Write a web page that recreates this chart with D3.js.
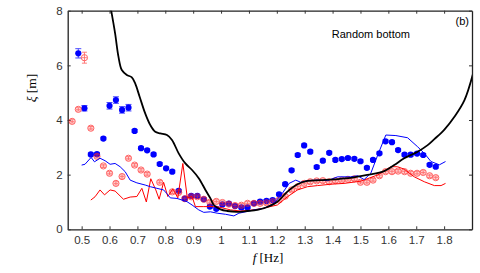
<!DOCTYPE html>
<html>
<head>
<meta charset="utf-8">
<script src="https://cdn.jsdelivr.net/npm/d3@7"></script>
<style>
  html, body { margin: 0; padding: 0; background: #fff; }
  svg { display: block; }
  .tick text { font-family: "Liberation Sans", Arial, sans-serif; font-size: 11.5px; fill: #333; }
</style>
</head>
<body>
<div id="chart"></div>
<script>
// measured points, blue filled dots
const blueF = [0.488, 0.51, 0.533, 0.555, 0.578, 0.6, 0.623, 0.645, 0.668, 0.69, 0.713, 0.735, 0.758, 0.78,
  0.803, 0.825, 0.848, 0.87, 0.893, 0.915, 0.938, 0.96, 0.983, 1.005, 1.028, 1.05, 1.073, 1.095, 1.118,
  1.14, 1.163, 1.185, 1.208, 1.23, 1.253, 1.275, 1.298, 1.32, 1.343, 1.365, 1.388, 1.41, 1.433, 1.455,
  1.478, 1.5, 1.523, 1.545, 1.568, 1.59, 1.613, 1.635, 1.658, 1.68, 1.703, 1.725, 1.748, 1.77];
const blueXi = [6.44, 4.43, 2.74, 2.75, 3.32, 4.52, 4.73, 4.37, 4.45, 3.6, 2.97, 2.89, 2.74, 2.39,
  2.23, 2.11, 1.41, 1.12, 1.22, 1.22, 1.1, 0.83, 0.75, 0.91, 0.94, 0.85, 0.8, 0.8, 0.95,
  1.01, 1.04, 1.07, 1.28, 1.65, 2.16, 2.72, 3.07, 2.84, 2.28, 2.51, 2.8, 2.54, 2.57, 2.61,
  2.58, 2.49, 2.25, 2.54, 2.78, 3.22, 3.19, 2.9, 2.73, 2.73, 2.77, 2.72, 2.36, 2.29];
const blueErr = [0.17, 0.1, 0.05, 0.05, 0.05, 0.12, 0.12, 0.12, 0.12, 0.05, 0.05, 0.05, 0.05, 0.05,
  0.05, 0.05, 0.05, 0.05, 0.05, 0.05, 0.05, 0.05, 0.05, 0.05, 0.05, 0.05, 0.05, 0.05, 0.05,
  0.05, 0.05, 0.05, 0.05, 0.05, 0.05, 0.05, 0.05, 0.05, 0.05, 0.05, 0.05, 0.05, 0.05, 0.05,
  0.05, 0.05, 0.05, 0.05, 0.05, 0.05, 0.05, 0.05, 0.05, 0.05, 0.05, 0.05, 0.05, 0.05];

// measured points, red open circles
const redF = [0.466, 0.488, 0.51, 0.533, 0.555, 0.578, 0.6, 0.623, 0.645, 0.668, 0.69, 0.713, 0.735,
  0.78, 0.825, 0.848, 0.87, 0.893, 0.915, 0.938, 0.96, 0.983, 1.005, 1.028, 1.05, 1.073, 1.095, 1.118,
  1.14, 1.163, 1.185, 1.208, 1.23, 1.253, 1.275, 1.298, 1.32, 1.343, 1.365, 1.388, 1.41, 1.433, 1.455,
  1.478, 1.5, 1.523, 1.545, 1.568, 1.59, 1.613, 1.635, 1.658, 1.68, 1.703, 1.725, 1.748, 1.77];
const redXi = [3.95, 4.39, 6.28, 3.7, 2.67, 2.32, 2.05, 1.68, 1.93, 2.6, 2.35, 2.17, 2.02,
  1.72, 1.37, 1.35, 1.12, 1.19, 1.19, 1.1, 0.99, 1.02, 0.98, 0.92, 0.87, 0.88, 0.95, 0.95,
  0.95, 0.97, 1.01, 1.07, 1.21, 1.44, 1.56, 1.68, 1.74, 1.77, 1.78, 1.74, 1.78, 1.8, 1.83,
  1.85, 1.72, 1.72, 1.8, 1.96, 2.11, 2.11, 2.13, 2.11, 2.05, 2.05, 2.08, 1.96, 1.89];
const redErr = [0.06, 0.06, 0.2, 0.06, 0.06, 0.06, 0.06, 0.06, 0.06, 0.06, 0.06, 0.06, 0.06,
  0.06, 0.06, 0.06, 0.06, 0.06, 0.06, 0.06, 0.06, 0.06, 0.06, 0.06, 0.06, 0.06, 0.06, 0.06,
  0.06, 0.06, 0.06, 0.06, 0.06, 0.06, 0.06, 0.06, 0.06, 0.06, 0.06, 0.06, 0.06, 0.06, 0.06,
  0.06, 0.06, 0.06, 0.06, 0.06, 0.06, 0.06, 0.06, 0.06, 0.06, 0.06, 0.06, 0.06, 0.06];

// black curve
const blackF = [0.595, 0.606, 0.62, 0.632, 0.644, 0.662, 0.68, 0.692, 0.708, 0.728, 0.746, 0.764, 0.782,
  0.806, 0.824, 0.848, 0.872, 0.896, 0.92, 0.944, 0.962, 0.974, 0.998, 1.022, 1.058, 1.094, 1.13,
  1.154, 1.202, 1.238, 1.274, 1.31, 1.358, 1.405, 1.465, 1.525, 1.585, 1.621, 1.657, 1.705, 1.741,
  1.765, 1.801, 1.837, 1.873, 1.904];
const blackXi = [8.6, 8.0, 7.17, 6.32, 5.83, 5.65, 5.56, 5.34, 4.85, 4.24, 3.82, 3.57, 3.51,
  3.45, 3.27, 2.78, 2.41, 2.17, 1.87, 1.44, 1.13, 0.89, 0.73, 0.67, 0.64, 0.67, 0.71,
  0.77, 1.01, 1.38, 1.65, 1.77, 1.8, 1.83, 1.88, 1.99, 2.13, 2.35, 2.6, 2.84, 3.08,
  3.3, 3.65, 4.12, 4.73, 5.71];

// blue curve
const blueLineF = [0.5, 0.512, 0.534, 0.546, 0.566, 0.584, 0.602, 0.62, 0.638, 0.656, 0.674, 0.698, 0.728,
  0.746, 0.77, 0.794, 0.806, 0.818, 0.842, 0.86, 0.878, 0.896, 0.92, 0.938, 0.962, 0.986, 1.016,
  1.046, 1.064, 1.088, 1.118, 1.154, 1.19, 1.22, 1.244, 1.268, 1.286, 1.31, 1.346, 1.382, 1.418,
  1.465, 1.49, 1.513, 1.537, 1.562, 1.591, 1.627, 1.669, 1.705, 1.729, 1.753, 1.783, 1.805];
const blueLineXi = [2.35, 2.38, 2.63, 2.47, 2.6, 2.51, 2.38, 2.41, 2.29, 2.11, 1.8, 1.7, 1.62,
  1.56, 1.5, 1.44, 1.3, 1.15, 1.13, 1.07, 1.01, 0.89, 0.71, 0.62, 0.64, 0.59, 0.55,
  0.49, 0.59, 0.64, 0.71, 0.77, 0.95, 1.32, 1.68, 1.8, 1.72, 1.78, 1.8, 1.78, 1.92,
  1.92, 1.96, 1.82, 2.05, 2.72, 3.45, 3.43, 3.35, 3.02, 2.78, 2.48, 2.36, 2.48];

// red curve
const redLineF = [0.533, 0.548, 0.566, 0.582, 0.602, 0.62, 0.65, 0.674, 0.698, 0.716, 0.732, 0.748, 0.766,
  0.778, 0.794, 0.809, 0.827, 0.845, 0.863, 0.879, 0.896, 0.908, 0.938, 0.986, 1.034, 1.07, 1.106,
  1.142, 1.202, 1.238, 1.274, 1.31, 1.346, 1.394, 1.441, 1.501, 1.562, 1.609, 1.633, 1.657, 1.693,
  1.729, 1.765, 1.789, 1.805];
const redLineXi = [1.07, 1.19, 1.44, 1.26, 1.44, 1.4, 1.1, 1.18, 1.2, 1.5, 1.0, 1.85, 1.44,
  1.1, 1.72, 1.2, 1.48, 1.15, 2.41, 1.15, 1.2, 0.83, 0.83, 0.83, 0.71, 0.67, 0.7,
  0.75, 0.89, 1.19, 1.44, 1.56, 1.6, 1.65, 1.68, 1.76, 1.99, 2.29, 2.29, 2.2, 1.92,
  1.74, 1.6, 1.6, 1.68];

const xTicks = [0.5, 0.6, 0.7, 0.8, 0.9, 1.0, 1.1, 1.2, 1.3, 1.4, 1.5, 1.6, 1.7, 1.8];
const yTicks = [0, 2, 4, 6, 8];

const W = 480, H = 273;
const margin = { top: 10.7, right: 8, bottom: 43.7, left: 67.7 };
const iw = W - margin.left - margin.right;
const ih = H - margin.top - margin.bottom;

const svg = d3.select("#chart").append("svg")
    .attr("width", W)
    .attr("height", H);

const g = svg.append("g")
    .attr("transform", `translate(${margin.left},${margin.top})`);

const x = d3.scaleLinear().domain([0.45, 1.9]).range([0, iw]);
const y = d3.scaleLinear().domain([0, 8]).range([ih, 0]);

g.append("clipPath").attr("id", "clip")
  .append("rect").attr("width", iw).attr("height", ih);

// axes, ticks inward on all four sides
const fmt = d => String(+d.toFixed(1));
g.append("g").attr("transform", `translate(0,${ih})`)
    .call(d3.axisBottom(x).tickValues(xTicks).tickFormat(fmt).tickSizeInner(-3).tickSizeOuter(0).tickPadding(7));
g.append("g")
    .call(d3.axisTop(x).tickValues(xTicks).tickFormat("").tickSizeInner(-3).tickSizeOuter(0));
g.append("g")
    .call(d3.axisLeft(y).tickValues(yTicks).tickFormat(d3.format("d")).tickSizeInner(-3).tickSizeOuter(0).tickPadding(5));
g.append("g").attr("transform", `translate(${iw},0)`)
    .call(d3.axisRight(y).tickValues(yTicks).tickFormat("").tickSizeInner(-3).tickSizeOuter(0));
g.selectAll(".domain").attr("stroke", "#222").attr("stroke-width", 1.3);
g.selectAll(".tick line").attr("stroke", "#333");

const plot = g.append("g").attr("clip-path", "url(#clip)");

const line = d3.line().x(d => x(d[0])).y(d => y(d[1]));

// blue dots with error bars
const blue = blueF.map((f, i) => ({ f: f, v: blueXi[i], e: blueErr[i] }));
const red = redF.map((f, i) => ({ f: f, v: redXi[i], e: redErr[i] }));

const bg = plot.append("g");
bg.selectAll("line.err").data(blue).enter().append("line")
    .attr("x1", d => x(d.f)).attr("x2", d => x(d.f))
    .attr("y1", d => y(d.v - d.e)).attr("y2", d => y(d.v + d.e))
    .attr("stroke", "#4a4aff").attr("stroke-width", 1);
bg.selectAll("path.cap").data(blue).enter().append("path")
    .attr("d", d => `M${x(d.f) - 3},${y(d.v - d.e)}h6M${x(d.f) - 3},${y(d.v + d.e)}h6`)
    .attr("stroke", "#4a4aff").attr("stroke-width", 1);
bg.selectAll("circle").data(blue).enter().append("circle")
    .attr("cx", d => x(d.f)).attr("cy", d => y(d.v))
    .attr("r", 3.1)
    .attr("fill", "#0000ff");

// red open circles with error bars
const rg = plot.append("g").attr("opacity", 0.7);
rg.selectAll("line").data(red).enter().append("line")
    .attr("x1", d => x(d.f)).attr("x2", d => x(d.f))
    .attr("y1", d => y(d.v - d.e)).attr("y2", d => y(d.v + d.e))
    .attr("stroke", "#ff3030").attr("stroke-width", 0.9);
rg.selectAll("path").data(red).enter().append("path")
    .attr("d", d => `M${x(d.f) - 2.5},${y(d.v)}h5M${x(d.f) - 2.5},${y(d.v - d.e)}h5M${x(d.f) - 2.5},${y(d.v + d.e)}h5`)
    .attr("stroke", "#ff3030").attr("stroke-width", 0.9);
rg.selectAll("circle").data(red).enter().append("circle")
    .attr("cx", d => x(d.f)).attr("cy", d => y(d.v))
    .attr("r", 3.1)
    .attr("fill", "none")
    .attr("stroke", "#ff2020").attr("stroke-width", 1);

// curves
plot.append("path")
    .datum(redLineF.map((f, i) => [f, redLineXi[i]]))
    .attr("d", line).attr("fill", "none")
    .attr("stroke", "#ff0000").attr("stroke-width", 1);
plot.append("path")
    .datum(blueLineF.map((f, i) => [f, blueLineXi[i]]))
    .attr("d", line).attr("fill", "none")
    .attr("stroke", "#0000ff").attr("stroke-width", 1);
plot.append("path")
    .datum(blackF.map((f, i) => [f, blackXi[i]]))
    .attr("d", line.curve(d3.curveCatmullRom)).attr("fill", "none")
    .attr("stroke", "#000").attr("stroke-width", 1.8);

// annotations
g.append("text")
    .attr("x", 264).attr("y", 27)
    .attr("font-family", "Liberation Sans, Arial, sans-serif")
    .attr("font-size", 11)
    .text("Random bottom");
g.append("text")
    .attr("x", iw - 3).attr("y", 14)
    .attr("text-anchor", "end")
    .attr("font-family", "Liberation Sans, Arial, sans-serif")
    .attr("font-size", 11)
    .text("(b)");

// axis titles
const xl = svg.append("text")
    .attr("x", 268).attr("y", 262)
    .attr("text-anchor", "middle")
    .attr("font-family", "Liberation Serif, Times New Roman, serif")
    .attr("font-size", 13);
xl.append("tspan").attr("font-style", "italic").text("f");
xl.append("tspan").text(" [Hz]");

const yl = svg.append("text")
    .attr("transform", "translate(36,88) rotate(-90)")
    .attr("text-anchor", "middle")
    .attr("font-family", "Liberation Serif, Times New Roman, serif")
    .attr("font-size", 13.5);
yl.append("tspan").attr("font-style", "italic").text("ξ");
yl.append("tspan").text(" [m]");
</script>
</body>
</html>
